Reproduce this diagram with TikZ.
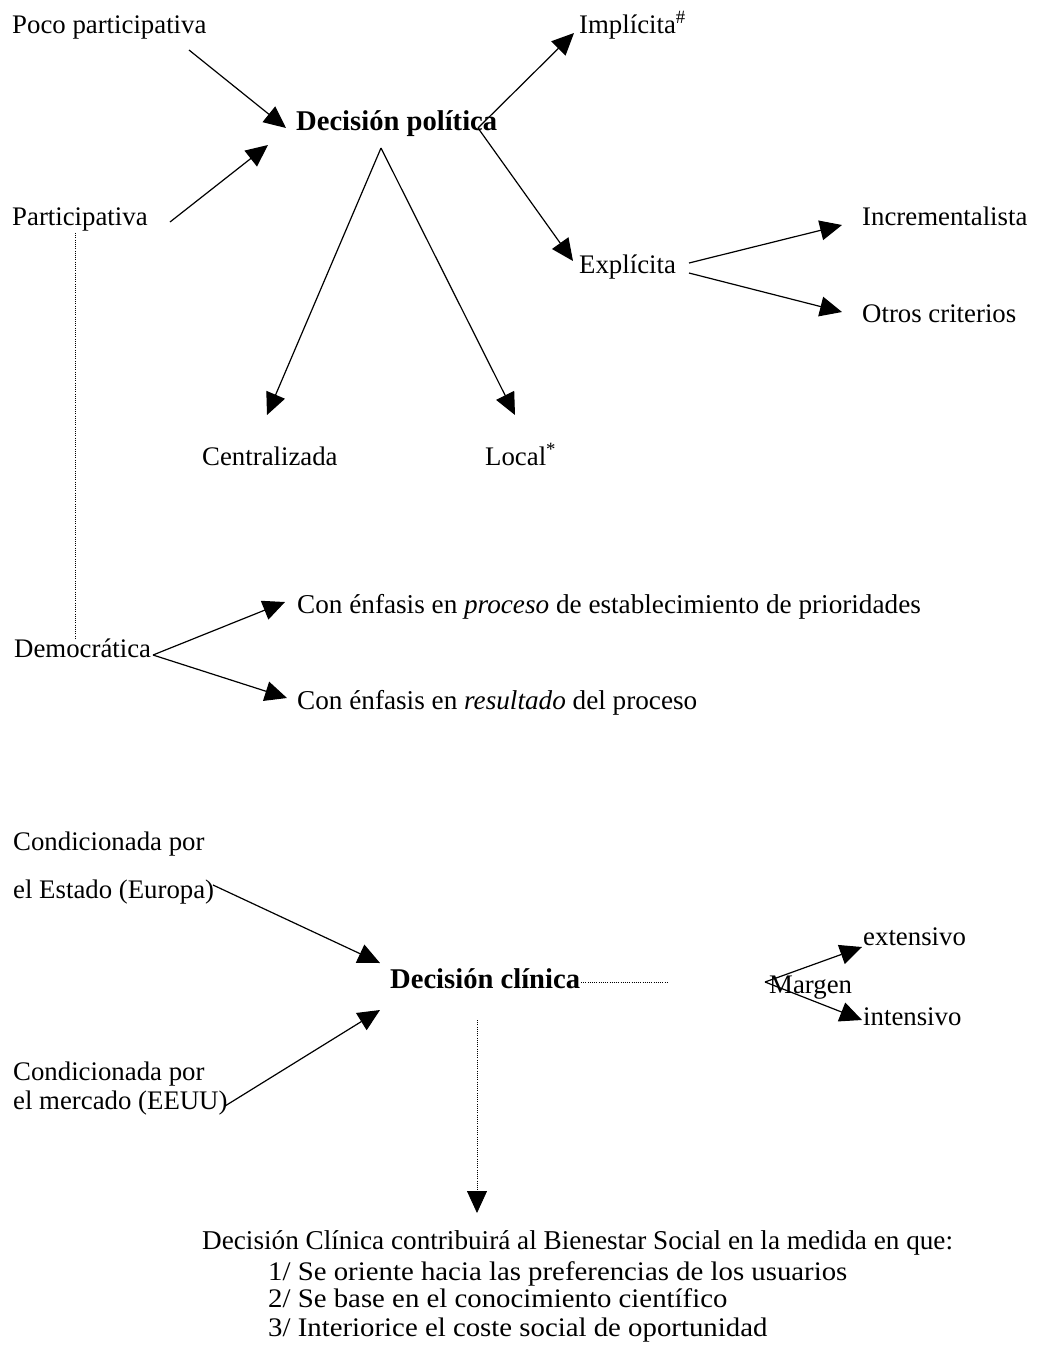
\documentclass[tikz,border=0pt]{standalone}
\usepackage{fontspec}
\setmainfont{Liberation Serif}
\usetikzlibrary{arrows.meta}
\newcommand{\widen}[1]{\scalebox{1.075}[1]{#1}}
\begin{document}
\begin{tikzpicture}[x=1pt,y=-1pt,
  txt/.style={anchor=base west, inner sep=0pt, font=\fontsize{26.8}{32}\selectfont},
  txtb/.style={anchor=base west, inner sep=0pt, font=\fontsize{27.2}{32}\selectfont},
  bld/.style={anchor=base west, inner sep=0pt, font=\fontsize{28.6}{34}\selectfont\bfseries},
  arr/.style={line width=1.2pt, -{Triangle[length=22pt,width=20pt]}},
  dotln/.style={line width=0.8pt, dash pattern=on 1pt off 1.2pt}]
\useasboundingbox (0,0) rectangle (1039,1350);
% texts
\node[txt] (poco) at (12,33) {Poco participativa};
\node[bld] (pol) at (296,130) {Decisión política};
\node[txt] (part) at (12,225) {Participativa};
\node[txt] (impl) at (579,33) {Implícita\textsuperscript{\#}};
\node[txt] (expl) at (579,273) {Explícita};
\node[txt] (incr) at (862,225) {Incrementalista};
\node[txt] (otros) at (862,322) {Otros criterios};
\node[txt] (cent) at (202,465) {Centralizada};
\node[txt] (local) at (485,465) {Local\textsuperscript{*}};
\node[txt] (demo) at (14,657) {Democrática};
\node[txtb] (proc) at (297,613) {Con énfasis en \textit{proceso} de establecimiento de prioridades};
\node[txtb] (resu) at (297,709) {Con énfasis en \textit{resultado} del proceso};
\node[txt] (cond1) at (13,850) {Condicionada por};
\node[txt] (estado) at (13,898) {el Estado (Europa)};
\node[bld] (clin) at (390,988) {Decisión clínica};
\node[txt] (margen) at (769,993) {Margen};
\node[txt] (ext) at (863,945) {extensivo};
\node[txt] (int) at (863,1025) {intensivo};
\node[txt] (cond2) at (13,1080) {Condicionada por};
\node[txt] (merc) at (13,1109) {el mercado (EEUU)};
\node[txtb] (bien) at (202,1249) {Decisión Clínica contribuirá al Bienestar Social en la medida en que:};
\node[txt] (c1) at (268,1280) {\widen{1/ Se oriente hacia las preferencias de los usuarios}};
\node[txt] (c2) at (268,1307) {\widen{2/ Se base en el conocimiento científico}};
\node[txt] (c3) at (268,1336) {\widen{3/ Interiorice el coste social de oportunidad}};
% connector ends
\coordinate (pocoE) at (189,50);
\coordinate (polIn1) at (286,128);
\coordinate (partE) at (170,222);
\coordinate (polIn2) at (268,145);
\coordinate (polApex) at (381,148);
\coordinate (centIn) at (267,415);
\coordinate (localIn) at (515,415);
\coordinate (polOut) at (478,128);
\coordinate (implIn) at (574,33);
\coordinate (explIn) at (573,261);
\coordinate (explOut1) at (689,263);
\coordinate (explOut2) at (689,273);
\coordinate (incrIn) at (842,225);
\coordinate (otrosIn) at (842,312);
\coordinate (partDot) at (75,233);
\coordinate (demoDot) at (75,638);
\coordinate (demoOut) at (153,655);
\coordinate (procIn) at (285,602);
\coordinate (resuIn) at (287,698);
\coordinate (estadoE) at (213,885);
\coordinate (clinIn1) at (380,963);
\coordinate (mercE) at (225,1106);
\coordinate (clinIn2) at (380,1010);
\coordinate (clinE) at (581,982);
\coordinate (clinDotE) at (667,982);
\coordinate (margenW) at (765,982);
\coordinate (extIn) at (862,947);
\coordinate (intIn) at (862,1020);
\coordinate (clinS) at (477,1020);
\coordinate (bienIn) at (477,1213);
% connectors
\draw[arr] (pocoE) -- (polIn1);
\draw[arr] (partE) -- (polIn2);
\draw[arr] (polApex) -- (centIn);
\draw[arr] (polApex) -- (localIn);
\draw[arr] (polOut) -- (implIn);
\draw[arr] (polOut) -- (explIn);
\draw[arr] (explOut1) -- (incrIn);
\draw[arr] (explOut2) -- (otrosIn);
\draw[dotln] (partDot) -- (demoDot);
\draw[arr] (demoOut) -- (procIn);
\draw[arr] (demoOut) -- (resuIn);
\draw[arr] (estadoE) -- (clinIn1);
\draw[arr] (mercE) -- (clinIn2);
\draw[dotln] (clinE) -- (clinDotE);
\draw[arr] (margenW) -- (extIn);
\draw[arr] (margenW) -- (intIn);
\draw[arr, dotln] (clinS) -- (bienIn);
\end{tikzpicture}
\end{document}
